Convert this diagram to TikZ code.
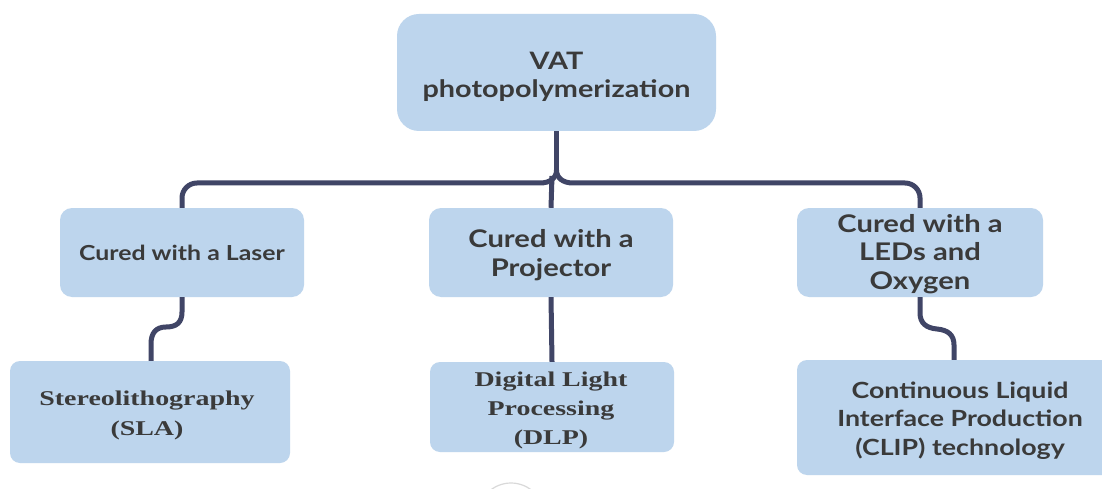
\documentclass[tikz,border=0pt]{standalone}
\usepackage{fontspec}
\newfontfamily\latofont[FakeStretch=1.2,BoldFont={Lato Bold}]{Lato}
\newfontfamily\serfont[FakeStretch=1.33]{Liberation Serif}
\definecolor{boxfill}{RGB}{189,213,237}
\definecolor{linecol}{RGB}{64,69,102}
\definecolor{txtcol}{RGB}{58,58,58}
\tikzset{
  box/.style={draw=none, fill=boxfill, rounded corners=12pt, inner sep=0pt},
  txt/.style={align=center, text=txtcol, inner sep=0pt},
  sansbig/.style={font=\latofont\bfseries\fontsize{24}{28}\selectfont},
  sansmid/.style={font=\latofont\bfseries\fontsize{24.3}{28.5}\selectfont},
  sanssmall/.style={font=\latofont\bfseries\fontsize{20.7}{28.5}\selectfont},
  sansbr/.style={font=\latofont\bfseries\fontsize{22.3}{28.5}\selectfont},
  serifb/.style={font=\serfont\bfseries\fontsize{21}{30}\selectfont},
  conn/.style={draw=linecol, line width=5pt},
}
\begin{document}
\begin{tikzpicture}[x=1pt,y=-1pt]
\clip (0,0) rectangle (1102,489);
\fill[white] (0,0) rectangle (1102,489);
% boxes
\node[box, rounded corners=22pt, minimum width=319pt, minimum height=117pt] (top) at (556.5,72.5) {};
\node[box, minimum width=244pt, minimum height=89pt] (mL) at (182,252.5) {};
\node[box, minimum width=244pt, minimum height=89pt] (mM) at (551,252.5) {};
\node[box, minimum width=246pt, minimum height=89pt] (mR) at (920,252.5) {};
\node[box, rounded corners=10pt, minimum width=280pt, minimum height=102pt] (bL) at (150,412) {};
\node[box, rounded corners=10pt, minimum width=244pt, minimum height=90pt] (bM) at (552,407) {};
\node[box, rounded corners=10pt, minimum width=326pt, minimum height=115pt] (bR) at (960,417.5) {};
% texts
\node[txt, sansbig] (topT) at ([yshift=-4pt]top.center) {VAT\\photopolymerization};
\node[txt, sanssmall] (mLT) at ([yshift=-0.5pt]mL.center) {Cured with a Laser};
\node[txt, sansmid] (mMT) at ([yshift=-2.5pt]mM.center) {Cured with a\\Projector};
\node[txt, sansmid] (mRT) at ([yshift=-1.5pt]mR.center) {Cured with a\\LEDs and\\Oxygen};
\node[txt, serifb] (bLT) at ([xshift=-3pt,yshift=-3pt]bL.center) {Stereolithography\\(SLA)};
\node[txt, font=\serfont\bfseries\fontsize{21}{29}\selectfont] (bMT) at ([xshift=-1pt,yshift=-3.5pt]bM.center) {Digital Light\\Processing\\(DLP)};
\node[txt, sansbr] (bRT) at ([yshift=-3pt]bR.center) {Continuous Liquid\\Interface Production\\(CLIP) technology};
% coordinates
\coordinate (j) at (556.5,170);
\coordinate (jm) at (552,176);
\coordinate (lx) at (151,0);
\coordinate (rx) at (954,0);
% connectors
\draw[conn] (top.south) -- (j);
\draw[conn] (j) .. controls (556.5,178) and (550,183) .. (540,183) -- (197,183)
  .. controls (188.7,183) and (182,189.7) .. (182,198) -- (mL.north);
\draw[conn] (j) .. controls (556.5,178) and (563,183) .. (573,183) -- (905,183)
  .. controls (913.3,183) and (920,189.7) .. (920,198) -- (mR.north);
\draw[conn] (jm) -- (mM.north);
\draw[conn] (mM.south) -- (bM.north);
\draw[conn] (mL.south) -- (182,312) .. controls (182,323) and (176,327) .. (166,327)
  .. controls (156,327) and (151,333) .. (151,344) -- (bL.north -| lx);
\draw[conn] (mR.south) -- (920,313) .. controls (920,323) and (926,328) .. (937,329)
  .. controls (948,330) and (954,335) .. (954,345) -- (bR.north -| rx);
% faint circle at bottom
\draw[black!15, line width=1.2pt] (511,516) circle (33);
\end{tikzpicture}
\end{document}
